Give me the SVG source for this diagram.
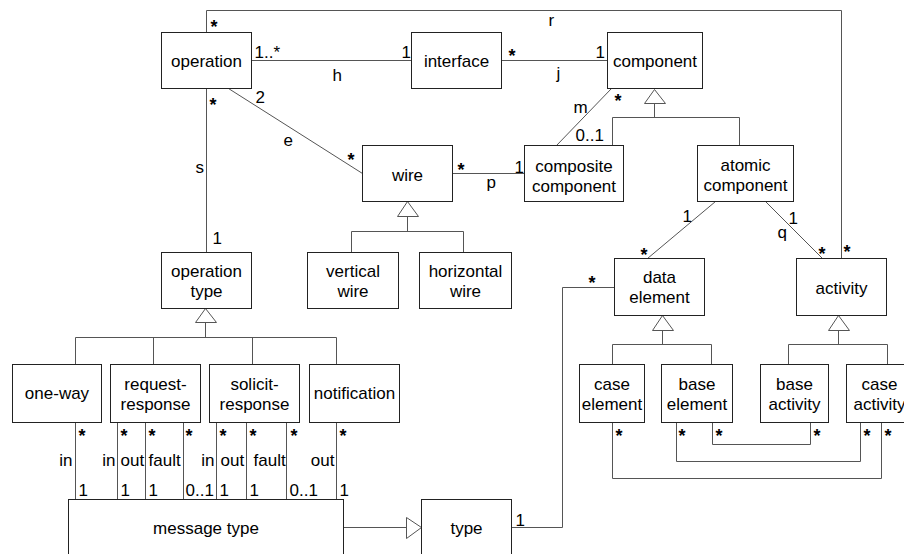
<svg xmlns="http://www.w3.org/2000/svg" width="904" height="554" viewBox="0 0 904 554">
<style>
text{font-family:"Liberation Sans",Arial,sans-serif;font-size:17px;fill:#000}
.c{text-anchor:middle}
.e{text-anchor:end}
.s{font-weight:bold;font-size:18px}
rect{fill:#fff;stroke:#222;stroke-width:1}
.ln{fill:none;stroke:#555;stroke-width:1}
.tri{fill:#fff;stroke:#555;stroke-width:1}
</style>
<rect x="0" y="0" width="904" height="554" style="stroke:none;fill:#fff"/>
<g transform="translate(0.5,0.5)">
<g id="connectors">
<polyline class="ln" points="206,32 206,10 841,10 841,258"/>
<line class="ln" x1="251" y1="60" x2="411" y2="60"/>
<line class="ln" x1="501" y1="60" x2="607" y2="60"/>
<line class="ln" x1="206" y1="88" x2="206" y2="252"/>
<line class="ln" x1="228" y1="88" x2="362" y2="173"/>
<line class="ln" x1="452" y1="173" x2="524" y2="173"/>
<line class="ln" x1="556" y1="145" x2="611" y2="88"/>
<polyline class="ln" points="654,103 654,117"/>
<polyline class="ln" points="612,145 612,117 739,117 739,145"/>
<polygon class="tri" points="654,89 644,103 665,103"/>
<polyline class="ln" points="407,216 407,231"/>
<polyline class="ln" points="351,252 351,231 463,231 463,252"/>
<polygon class="tri" points="407,201 397,216 418,216"/>
<polyline class="ln" points="205,322 205,337"/>
<polyline class="ln" points="75,364 75,337 336,337 336,364"/>
<line class="ln" x1="153" y1="337" x2="153" y2="364"/>
<line class="ln" x1="252" y1="337" x2="252" y2="364"/>
<polygon class="tri" points="205,308 195,322 216,322"/>
<line class="ln" x1="715" y1="201" x2="647" y2="258"/>
<line class="ln" x1="765" y1="201" x2="822" y2="258"/>
<polyline class="ln" points="662,330 662,344"/>
<polyline class="ln" points="612,364 612,344 711,344 711,364"/>
<polygon class="tri" points="662,315 652,330 673,330"/>
<polyline class="ln" points="838,330 838,344"/>
<polyline class="ln" points="788,364 788,344 887,344 887,364"/>
<polygon class="tri" points="838,315 828,330 849,330"/>
<polyline class="ln" points="612,422 612,478 881,478 881,422"/>
<polyline class="ln" points="676,422 676,461 860,461 860,422"/>
<polyline class="ln" points="712,422 712,444 810,444 810,422"/>
<polyline class="ln" points="511,527 562,527 562,287 614,287"/>
<line class="ln" x1="343" y1="527" x2="406" y2="527"/>
<polygon class="tri" points="421,527 406,517 406,538"/>
<line class="ln" x1="75" y1="422" x2="75" y2="499"/>
<line class="ln" x1="117" y1="422" x2="117" y2="499"/>
<line class="ln" x1="145" y1="422" x2="145" y2="499"/>
<line class="ln" x1="183" y1="422" x2="183" y2="499"/>
<line class="ln" x1="216" y1="422" x2="216" y2="499"/>
<line class="ln" x1="246" y1="422" x2="246" y2="499"/>
<line class="ln" x1="286" y1="422" x2="286" y2="499"/>
<line class="ln" x1="336" y1="422" x2="336" y2="499"/>
</g>
<g id="labels">
<text class="s" x="210" y="32">*</text>
<text class="s" x="209" y="110">*</text>
<text x="254" y="57">1..*</text>
<text x="401" y="57">1</text>
<text x="332" y="80">h</text>
<text class="s" x="508" y="61">*</text>
<text x="595" y="57">1</text>
<text x="556" y="78">j</text>
<text x="548" y="25">r</text>
<text x="573" y="112">m</text>
<text x="575" y="140">0..1</text>
<text class="s" x="614" y="106">*</text>
<text x="255" y="102">2</text>
<text x="283" y="145">e</text>
<text x="195" y="172">s</text>
<text class="s" x="347" y="165">*</text>
<text class="s" x="457" y="175">*</text>
<text x="514" y="172">1</text>
<text x="486" y="187">p</text>
<text x="212" y="243">1</text>
<text x="682" y="221">1</text>
<text class="s" x="640" y="260">*</text>
<text x="788" y="223">1</text>
<text x="777" y="237">q</text>
<text class="s" x="818" y="259">*</text>
<text class="s" x="843" y="257">*</text>
<text class="s" x="588" y="288">*</text>
<text x="515" y="525">1</text>
<text class="s" x="615" y="441">*</text>
<text class="s" x="678" y="441">*</text>
<text class="s" x="715" y="441">*</text>
<text class="s" x="813" y="441">*</text>
<text class="s" x="863" y="441">*</text>
<text class="s" x="884" y="441">*</text>
<text class="s" x="78" y="441">*</text>
<text class="s" x="120" y="441">*</text>
<text class="s" x="148" y="441">*</text>
<text class="s" x="185" y="441">*</text>
<text class="s" x="219" y="441">*</text>
<text class="s" x="249" y="441">*</text>
<text class="s" x="290" y="441">*</text>
<text class="s" x="339" y="441">*</text>
<text class="e" x="72" y="465">in</text>
<text class="e" x="115" y="465">in</text>
<text x="120" y="465">out</text>
<text x="148" y="465">fault</text>
<text class="e" x="214" y="465">in</text>
<text x="220" y="465">out</text>
<text x="253" y="465">fault</text>
<text class="e" x="334" y="465">out</text>
<text x="78" y="495">1</text>
<text x="120" y="495">1</text>
<text x="148" y="495">1</text>
<text x="185" y="495">0..1</text>
<text x="219" y="495">1</text>
<text x="249" y="495">1</text>
<text x="289" y="495">0..1</text>
<text x="339" y="495">1</text>
</g>
<g id="operation"><rect x="161" y="32" width="90" height="56"/><text class="c" x="206" y="66">operation</text></g>
<g id="interface"><rect x="411" y="32" width="90" height="56"/><text class="c" x="456" y="66">interface</text></g>
<g id="component"><rect x="607" y="32" width="95" height="56"/><text class="c" x="654.5" y="66">component</text></g>
<g id="wire"><rect x="362" y="145" width="90" height="56"/><text class="c" x="407" y="180">wire</text></g>
<g id="composite-component"><rect x="524" y="145" width="99" height="56"/><text class="c" x="573.5" y="171">composite</text><text class="c" x="573.5" y="191">component</text></g>
<g id="atomic-component"><rect x="697" y="145" width="96" height="56"/><text class="c" x="745" y="170">atomic</text><text class="c" x="745" y="190">component</text></g>
<g id="operation-type"><rect x="161" y="252" width="90" height="56"/><text class="c" x="206" y="276">operation</text><text class="c" x="206" y="296">type</text></g>
<g id="vertical-wire"><rect x="307" y="252" width="91" height="56"/><text class="c" x="352.5" y="276">vertical</text><text class="c" x="352.5" y="296">wire</text></g>
<g id="horizontal-wire"><rect x="419" y="252" width="92" height="56"/><text class="c" x="465" y="276">horizontal</text><text class="c" x="465" y="296">wire</text></g>
<g id="data-element"><rect x="614" y="258" width="90" height="57"/><text class="c" x="659" y="282">data</text><text class="c" x="659" y="302">element</text></g>
<g id="activity"><rect x="796" y="258" width="90" height="57"/><text class="c" x="841" y="293">activity</text></g>
<g id="one-way"><rect x="12" y="364" width="89" height="58"/><text class="c" x="56.5" y="398">one-way</text></g>
<g id="request-response"><rect x="110" y="364" width="90" height="58"/><text class="c" x="155" y="389">request-</text><text class="c" x="155" y="409">response</text></g>
<g id="solicit-response"><rect x="209" y="364" width="90" height="58"/><text class="c" x="254" y="389">solicit-</text><text class="c" x="254" y="409">response</text></g>
<g id="notification"><rect x="309" y="364" width="90" height="58"/><text class="c" x="354" y="398">notification</text></g>
<g id="case-element"><rect x="579" y="364" width="65" height="58"/><text class="c" x="611.5" y="389">case</text><text class="c" x="611.5" y="409">element</text></g>
<g id="base-element"><rect x="661" y="364" width="71" height="58"/><text class="c" x="696.5" y="389">base</text><text class="c" x="696.5" y="409">element</text></g>
<g id="base-activity"><rect x="760" y="364" width="68" height="58"/><text class="c" x="794" y="389">base</text><text class="c" x="794" y="409">activity</text></g>
<g id="case-activity"><rect x="846" y="364" width="70" height="58"/><text class="c" x="879" y="389">case</text><text class="c" x="879" y="409">activity</text></g>
<g id="message-type"><rect x="68" y="499" width="275" height="62"/><text class="c" x="205.5" y="533">message type</text></g>
<g id="type"><rect x="421" y="499" width="90" height="62"/><text class="c" x="466" y="533">type</text></g>
</g>
</svg>
